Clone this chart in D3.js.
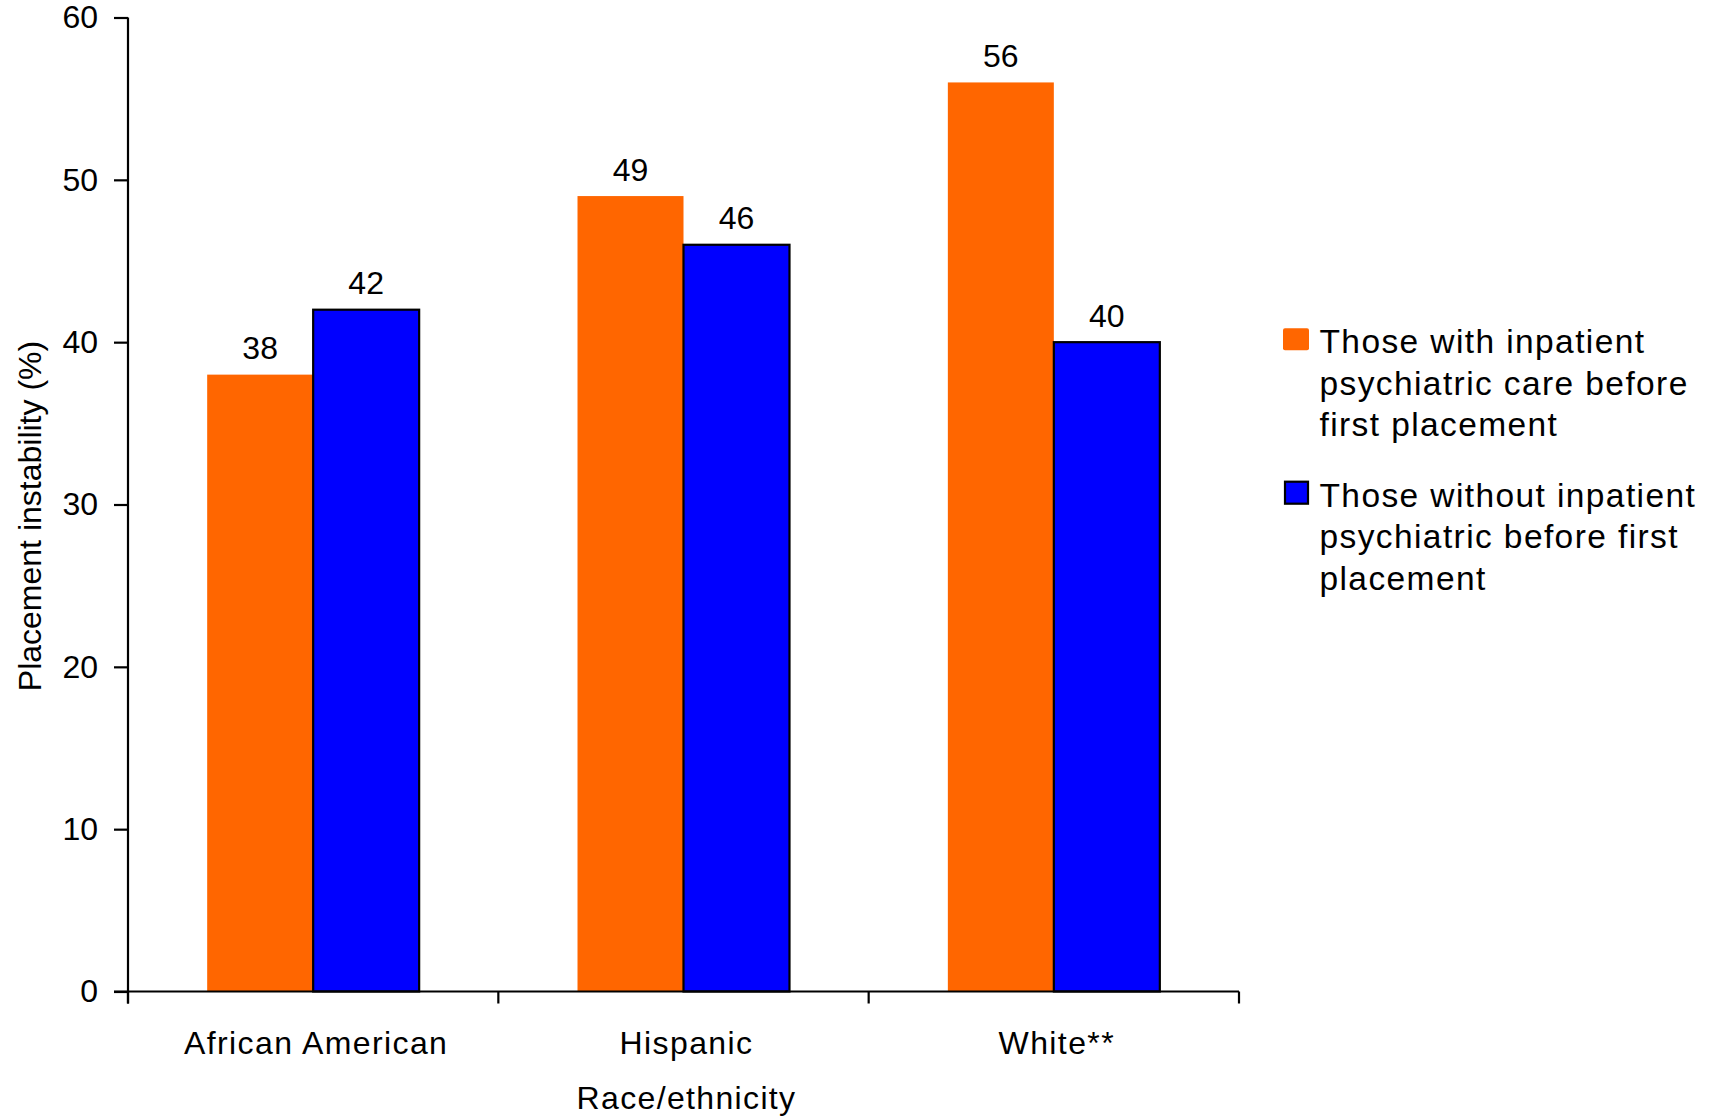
<!DOCTYPE html>
<html>
<head>
<meta charset="utf-8">
<script src="https://cdn.jsdelivr.net/npm/d3@7"></script>
<style>
  html, body { margin: 0; padding: 0; background: #fff; }
  svg { display: block; font-family: "Liberation Sans", Arial, sans-serif; }
</style>
</head>
<body>
<svg id="chart" width="1718" height="1118"></svg>
<script>
// Placement instability by race/ethnicity
const categories = ["African American", "Hispanic", "White**"];
const seriesNames = [
  "Those with inpatient psychiatric care before first placement",
  "Those without inpatient psychiatric before first placement"
];
const withCare = [38, 49, 56];
const withoutCare = [42, 46, 40];
const yTicks = [0, 10, 20, 30, 40, 50, 60];
const legendLines = [
  ["Those with inpatient", "psychiatric care before", "first placement"],
  ["Those without inpatient", "psychiatric before first", "placement"]
];
const colors = ["#FF6600", "#0000FF"];

const svg = d3.select("#chart");
const plotLeft = 128, plotRight = 1239, plotTop = 17.5, plotBottom = 991.5;

const x0 = d3.scaleBand().domain(categories).range([plotLeft, plotRight]).padding(0);
const x1 = d3.scaleBand().domain([0, 1]).range([0, x0.bandwidth()])
  .paddingInner(0).paddingOuter(0.747);
const y = d3.scaleLinear().domain([0, 60]).range([plotBottom, plotTop]);

const rows = categories.map((c, i) => ({ cat: c, vals: [withCare[i], withoutCare[i]] }));

// Bars
const groups = svg.append("g").selectAll("g").data(rows).join("g")
  .attr("transform", d => `translate(${x0(d.cat)},0)`);

groups.selectAll("rect").data(d => d.vals.map((v, s) => ({ v, s }))).join("rect")
  .attr("x", d => x1(d.s))
  .attr("y", d => y(d.v))
  .attr("width", x1.bandwidth())
  .attr("height", d => y(0) - y(d.v))
  .attr("fill", d => colors[d.s])
  .attr("stroke", d => d.s === 1 ? "#000" : "none")
  .attr("stroke-width", 2.2);

// Value labels
groups.selectAll("text.val").data(d => d.vals.map((v, s) => ({ v, s }))).join("text")
  .attr("class", "val")
  .attr("x", d => x1(d.s) + x1.bandwidth() / 2)
  .attr("y", d => y(d.v) - 15.5)
  .attr("text-anchor", "middle")
  .attr("font-size", 32)
  .attr("fill", "#000")
  .text(d => d.v);

// Y axis
const yAxis = svg.append("g")
  .attr("transform", `translate(${plotLeft},0)`)
  .call(d3.axisLeft(y).tickValues(yTicks).tickSize(14).tickPadding(16).tickFormat(d3.format("d")));
yAxis.select(".domain").attr("d", `M0,${plotTop}V${plotBottom + 12}`).attr("stroke-width", 2.2);
yAxis.selectAll(".tick line").attr("stroke-width", 2.2);
yAxis.selectAll(".tick text").attr("font-size", 32).attr("fill", "#000")
  .attr("font-family", "Liberation Sans, Arial, sans-serif");

// X axis with boundary ticks between categories
const boundaries = [plotLeft, ...categories.map(c => x0(c) + x0.bandwidth())];
const xAxisG = svg.append("g");
xAxisG.append("line")
  .attr("x1", plotLeft - 14).attr("x2", plotRight)
  .attr("y1", plotBottom).attr("y2", plotBottom)
  .attr("stroke", "#000").attr("stroke-width", 2.2);
xAxisG.selectAll("line.tk").data(boundaries).join("line")
  .attr("class", "tk")
  .attr("x1", d => d).attr("x2", d => d)
  .attr("y1", plotBottom).attr("y2", plotBottom + 12)
  .attr("stroke", "#000").attr("stroke-width", 2.2);
xAxisG.selectAll("text").data(categories).join("text")
  .attr("x", d => x0(d) + x0.bandwidth() / 2 + 3)
  .attr("y", 1054)
  .attr("text-anchor", "middle")
  .attr("font-size", 32)
  .attr("letter-spacing", 1.4)
  .text(d => d);

// Axis titles
svg.append("text")
  .attr("x", (plotLeft + plotRight) / 2 + 3)
  .attr("y", 1109)
  .attr("text-anchor", "middle")
  .attr("font-size", 32)
  .attr("letter-spacing", 1.35)
  .text("Race/ethnicity");

svg.append("text")
  .attr("transform", `translate(41,516) rotate(-90)`)
  .attr("text-anchor", "middle")
  .attr("font-size", 32)
  .text("Placement instability (%)");

// Legend
const legend = svg.append("g");
const legendBaselines = [353.3, 506.7];
legendLines.forEach((lines, s) => {
  const g = legend.append("g");
  g.append("rect")
    .attr("x", s === 0 ? 1283 : 1285)
    .attr("y", legendBaselines[s] - 25)
    .attr("width", s === 0 ? 26 : 23)
    .attr("height", 22)
    .attr("rx", s === 0 ? 2 : 0)
    .attr("fill", colors[s])
    .attr("stroke", s === 1 ? "#000" : "none")
    .attr("stroke-width", 2.2);
  g.append("text")
    .attr("font-size", 33.5)
    .attr("letter-spacing", 1.4)
    .selectAll("tspan").data(lines).join("tspan")
    .attr("x", 1319.5)
    .attr("y", (d, i) => legendBaselines[s] + i * 41.5)
    .text(d => d);
});
</script>
</body>
</html>
